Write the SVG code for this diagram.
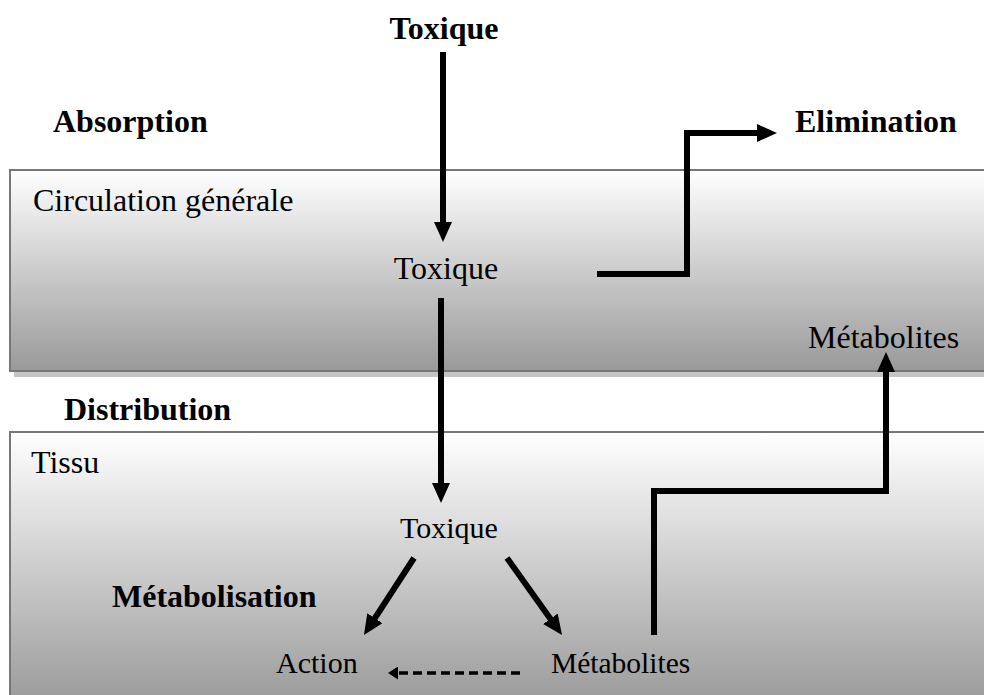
<svg xmlns="http://www.w3.org/2000/svg" width="984" height="695" viewBox="0 0 984 695">
  <style>
    .reg { font-family: "Liberation Serif", "Times New Roman", serif; font-size: 32px; fill: #000; }
    .sm { font-size: 30px; }
    .bold { font-family: "Liberation Serif", "Times New Roman", serif; font-size: 32px; font-weight: bold; fill: #000; }
    .box { stroke: #777; stroke-width: 2; }
    .shadow { fill: #c4c4c4; }
    .conn { fill: none; stroke: #000; stroke-width: 6; stroke-linejoin: miter; }
    .dash { fill: none; stroke: #000; stroke-width: 3.5; stroke-dasharray: 9 5; }
  </style>
  <defs>
    <linearGradient id="g" x1="0" y1="0" x2="0" y2="1">
      <stop offset="0" stop-color="#ffffff"/>
      <stop offset="1" stop-color="#999999"/>
    </linearGradient>
    <marker id="ah" markerUnits="userSpaceOnUse" markerWidth="20" markerHeight="18" refX="10" refY="9" orient="auto">
      <path d="M0,0 L20,9 L0,18 Z" fill="#000"/>
    </marker>
    <marker id="ahs" markerUnits="userSpaceOnUse" markerWidth="10" markerHeight="13" refX="4" refY="6.5" orient="auto">
      <path d="M0,0 L10,6.5 L0,13 Z" fill="#000"/>
    </marker>
  </defs>

  <g id="circulation">
    <rect class="shadow" x="14" y="175" width="990" height="202"/>
    <rect class="box" x="10" y="170" width="990" height="201" fill="url(#g)"/>
    <text class="reg" x="33" y="211">Circulation générale</text>
  </g>

  <g id="tissu">
    <rect class="box" x="10" y="432" width="990" height="275" fill="url(#g)"/>
    <text class="reg" x="31" y="473">Tissu</text>
  </g>

  <g id="toxique-top"><text class="bold" x="444" y="39" text-anchor="middle">Toxique</text></g>
  <g id="absorption"><text class="bold" x="53" y="132">Absorption</text></g>
  <g id="elimination"><text class="bold" x="795" y="132">Elimination</text></g>
  <g id="toxique-circ"><text class="reg" x="446" y="279" text-anchor="middle">Toxique</text></g>
  <g id="metabolites-circ"><text class="reg" x="808" y="348">Métabolites</text></g>
  <g id="distribution"><text class="bold" x="64" y="420">Distribution</text></g>
  <g id="toxique-tissu"><text class="reg sm" x="449" y="538" text-anchor="middle">Toxique</text></g>
  <g id="metabolisation"><text class="bold" x="112" y="607">Métabolisation</text></g>
  <g id="action"><text class="reg sm" x="276" y="673">Action</text></g>
  <g id="metabolites-tissu"><text class="reg" style="font-size:29.5px" x="551" y="673">Métabolites</text></g>

  <g id="connectors">
    <path class="conn" d="M443,52 V232" marker-end="url(#ah)"/>
    <path class="conn" d="M597,274 H687 V133 H767" marker-end="url(#ah)"/>
    <path class="conn" d="M441,298 V493" marker-end="url(#ah)"/>
    <path class="conn" d="M414,558 L369.4,626.6" marker-end="url(#ah)"/>
    <path class="conn" d="M507,558 L556.2,626.9" marker-end="url(#ah)"/>
    <path class="conn" d="M654,635 V491 H886 V362" marker-end="url(#ah)"/>
    <path class="dash" d="M520,673 H394" marker-end="url(#ahs)"/>
  </g>
</svg>
